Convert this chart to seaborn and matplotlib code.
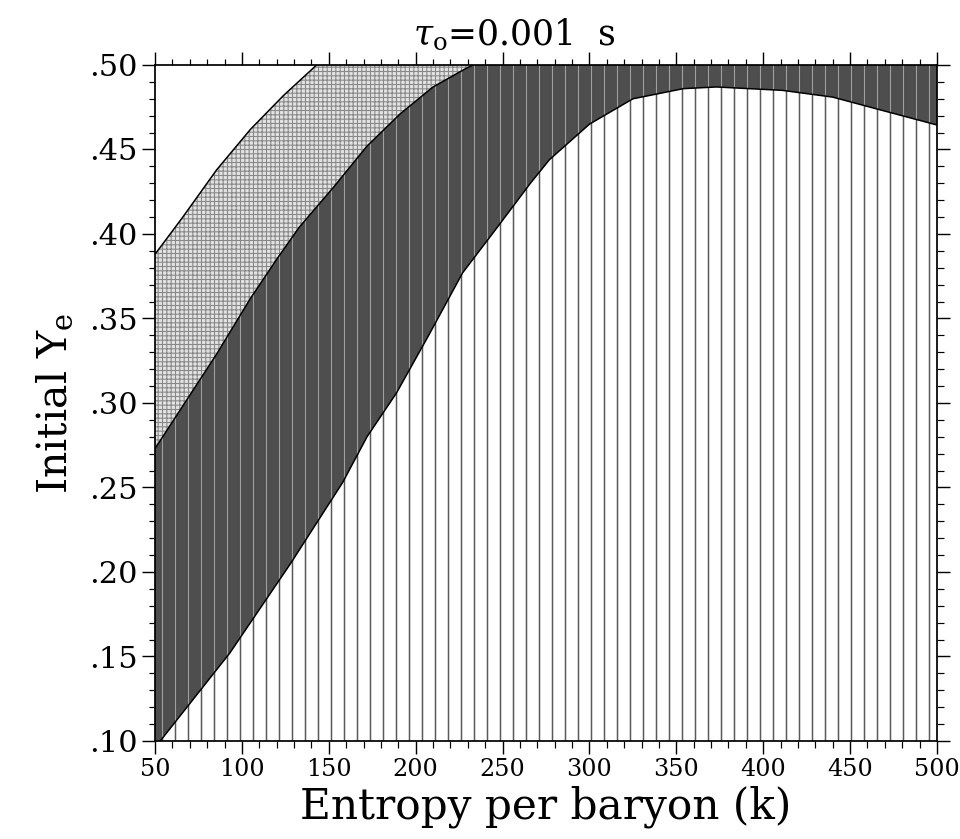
import numpy as np
import pandas as pd
import seaborn as sns
import matplotlib as mpl
import matplotlib.pyplot as plt
from matplotlib.ticker import MultipleLocator, FuncFormatter

# ---- data ----
upper_s = [50, 66, 85.5, 105, 124, 143]
upper_ye = [.388, .410, .438, .462, .482, .500]

mid_s = [50, 85.5, 105, 120, 133, 153, 172, 191, 210, 229, 233]
mid_ye = [.273, .329, .362, .385, .404, .428, .452, .471, .487, .498, .500]

low_s = [53, 93, 128, 158, 172, 189, 208, 227, 247, 266, 277, 300, 325,
         354, 373, 411, 440, 469, 500]
low_ye = [.100, .152, .205, .253, .280, .306, .341, .377, .404, .430, .444,
          .465, .480, .486, .487, .485, .481, .473, .4645]

s_min, s_max = 50, 500
ye_min, ye_max = 0.10, 0.50
title = r'$\tau_{\rm o}$=0.001  s'
xlabel = 'Entropy per baryon (k)'
ylabel = r'Initial Y$_{\rm e}$'

DPI = 78
sns.set_theme(style='ticks')
plt.rcParams['font.family'] = ['DejaVu Serif']
plt.rcParams['mathtext.fontset'] = 'dejavuserif'
plt.rcParams['xtick.color'] = 'black'
plt.rcParams['ytick.color'] = 'black'
plt.rcParams['axes.edgecolor'] = 'black'
plt.rcParams['text.color'] = 'black'
plt.rcParams['axes.labelcolor'] = 'black'

fig = plt.figure(figsize=(960 / DPI, 839 / DPI), dpi=DPI)
ax = fig.add_axes([155 / 960, 1 - 741 / 839, 782 / 960, 676 / 839])


def region(xs, ys, face, hatch_col, hatch, hlw):
    plt.rcParams['hatch.linewidth'] = hlw
    p = ax.fill(xs, ys, facecolor=face, edgecolor=hatch_col, hatch=hatch,
                linewidth=0, zorder=1)[0]
    if hasattr(p, 'set_hatch_linewidth'):
        p.set_hatch_linewidth(hlw)
    return p


# region below lower curve: vertical lines
region(low_s + [s_max], low_ye + [ye_min], 'white', '#5a5a5a', '|', 1.4)
# dark band between middle and lower curves
region(mid_s + [s_max] + low_s[::-1] + [s_min],
       mid_ye + [ye_max] + low_ye[::-1] + [ye_min],
       '#4e4e4e', '#a0a0a0', '|', 1.0)
# light dotted band between upper and middle curves
region(upper_s + mid_s[::-1], upper_ye + mid_ye[::-1],
       '#e2e2e2', '#888888', '+++', 1.0)

for xs, ys in [(upper_s, upper_ye), (mid_s, mid_ye), (low_s, low_ye)]:
    sns.lineplot(x=xs, y=ys, ax=ax, color='black', linewidth=1.4,
                 sort=False, estimator=None, zorder=3)

ax.set_xlim(s_min, s_max)
ax.set_ylim(ye_min, ye_max)
ax.xaxis.set_major_locator(MultipleLocator(50))
ax.xaxis.set_minor_locator(MultipleLocator(10))
ax.yaxis.set_major_locator(MultipleLocator(0.05))
ax.yaxis.set_minor_locator(MultipleLocator(0.01))
ax.yaxis.set_major_formatter(FuncFormatter(lambda v, p: f'{v:.2f}'.lstrip('0')))

ax.tick_params(which='both', direction='out', top=True, right=True,
               bottom=True, left=True, labeltop=False, labelright=False)
ax.tick_params(which='major', length=12, width=1.3)
ax.tick_params(which='minor', length=6, width=1.1)
ax.tick_params(axis='x', labelsize=22, pad=4)
ax.tick_params(axis='y', labelsize=28, pad=4)
for sp in ax.spines.values():
    sp.set_linewidth(1.6)
    sp.set_color('black')
    sp.set_zorder(4)

ax.set_xlabel(xlabel, fontsize=39, labelpad=4)
ax.set_ylabel(ylabel, fontsize=38, labelpad=12)
ax.set_title(title, fontsize=32, pad=18, x=0.46)

fig.savefig('out.png', dpi=DPI)
